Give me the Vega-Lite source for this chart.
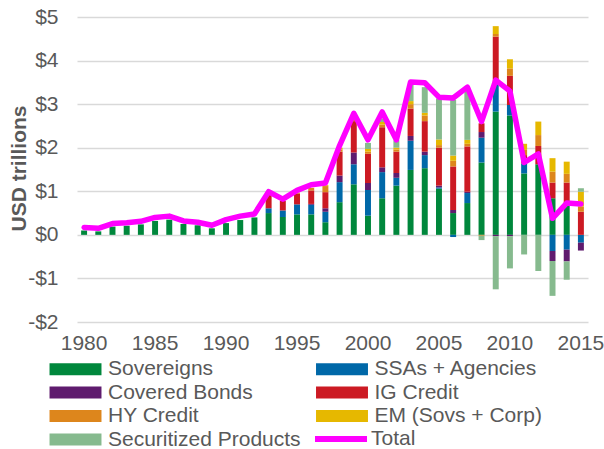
{
 "$schema": "https://vega.github.io/schema/vega-lite/v6.json",
 "width": 511, "height": 305,
 "autosize": {"type": "none"},
 "padding": {"left": 77, "top": 17, "right": 16, "bottom": 127},
 "config": {"font": "Liberation Sans", "view": {"stroke": null}},
 "datasets": {
  "cats": [
   {"cat": "Sovereigns", "k": 1}, {"cat": "SSAs + Agencies", "k": 2}, {"cat": "Covered Bonds", "k": 3},
   {"cat": "IG Credit", "k": 4}, {"cat": "HY Credit", "k": 5}, {"cat": "EM (Sovs + Corp)", "k": 6},
   {"cat": "Securitized Products", "k": 7}
  ],
  "bars": [
   {"year": 1980, "cat": "Sovereigns", "value": 0.10}, {"year": 1981, "cat": "Sovereigns", "value": 0.08},
   {"year": 1982, "cat": "Sovereigns", "value": 0.19}, {"year": 1983, "cat": "Sovereigns", "value": 0.21},
   {"year": 1984, "cat": "Sovereigns", "value": 0.24}, {"year": 1985, "cat": "Sovereigns", "value": 0.32},
   {"year": 1986, "cat": "Sovereigns", "value": 0.35}, {"year": 1987, "cat": "Sovereigns", "value": 0.25},
   {"year": 1988, "cat": "Sovereigns", "value": 0.22}, {"year": 1989, "cat": "Sovereigns", "value": 0.15},
   {"year": 1990, "cat": "Sovereigns", "value": 0.27}, {"year": 1991, "cat": "Sovereigns", "value": 0.34},
   {"year": 1992, "cat": "Sovereigns", "value": 0.40}, {"year": 1993, "cat": "Sovereigns", "value": 0.50},
   {"year": 1994, "cat": "Sovereigns", "value": 0.41}, {"year": 1995, "cat": "Sovereigns", "value": 0.47},
   {"year": 1996, "cat": "Sovereigns", "value": 0.47}, {"year": 1997, "cat": "Sovereigns", "value": 0.29},
   {"year": 1998, "cat": "Sovereigns", "value": 0.75}, {"year": 1999, "cat": "Sovereigns", "value": 1.16},
   {"year": 2000, "cat": "Sovereigns", "value": 0.44}, {"year": 2001, "cat": "Sovereigns", "value": 0.84},
   {"year": 2002, "cat": "Sovereigns", "value": 1.13}, {"year": 2003, "cat": "Sovereigns", "value": 1.49},
   {"year": 2004, "cat": "Sovereigns", "value": 1.53}, {"year": 2005, "cat": "Sovereigns", "value": 1.06},
   {"year": 2006, "cat": "Sovereigns", "value": 0.50}, {"year": 2007, "cat": "Sovereigns", "value": 0.73},
   {"year": 2008, "cat": "Sovereigns", "value": 1.66}, {"year": 2009, "cat": "Sovereigns", "value": 2.83},
   {"year": 2010, "cat": "Sovereigns", "value": 2.74}, {"year": 2011, "cat": "Sovereigns", "value": 1.41},
   {"year": 2012, "cat": "Sovereigns", "value": 1.62}, {"year": 2013, "cat": "Sovereigns", "value": 0.84},
   {"year": 2014, "cat": "Sovereigns", "value": 0.72},

   {"year": 1993, "cat": "SSAs + Agencies", "value": 0.11}, {"year": 1994, "cat": "SSAs + Agencies", "value": 0.15},
   {"year": 1995, "cat": "SSAs + Agencies", "value": 0.23}, {"year": 1996, "cat": "SSAs + Agencies", "value": 0.22},
   {"year": 1997, "cat": "SSAs + Agencies", "value": 0.24}, {"year": 1998, "cat": "SSAs + Agencies", "value": 0.46},
   {"year": 1999, "cat": "SSAs + Agencies", "value": 0.46}, {"year": 2000, "cat": "SSAs + Agencies", "value": 0.59},
   {"year": 2001, "cat": "SSAs + Agencies", "value": 0.60}, {"year": 2002, "cat": "SSAs + Agencies", "value": 0.18},
   {"year": 2003, "cat": "SSAs + Agencies", "value": 0.67}, {"year": 2004, "cat": "SSAs + Agencies", "value": 0.30},
   {"year": 2005, "cat": "SSAs + Agencies", "value": 0.03}, {"year": 2006, "cat": "SSAs + Agencies", "value": -0.05},
   {"year": 2007, "cat": "SSAs + Agencies", "value": 0.23}, {"year": 2008, "cat": "SSAs + Agencies", "value": 0.57},
   {"year": 2009, "cat": "SSAs + Agencies", "value": 0.65}, {"year": 2010, "cat": "SSAs + Agencies", "value": 0.24},
   {"year": 2011, "cat": "SSAs + Agencies", "value": 0.23}, {"year": 2013, "cat": "SSAs + Agencies", "value": -0.37},
   {"year": 2014, "cat": "SSAs + Agencies", "value": -0.34}, {"year": 2015, "cat": "SSAs + Agencies", "value": -0.18},

   {"year": 1996, "cat": "Covered Bonds", "value": 0.02}, {"year": 1997, "cat": "Covered Bonds", "value": 0.08},
   {"year": 1998, "cat": "Covered Bonds", "value": 0.15}, {"year": 1999, "cat": "Covered Bonds", "value": 0.27},
   {"year": 2000, "cat": "Covered Bonds", "value": 0.16}, {"year": 2001, "cat": "Covered Bonds", "value": 0.11},
   {"year": 2002, "cat": "Covered Bonds", "value": 0.11}, {"year": 2003, "cat": "Covered Bonds", "value": 0.11},
   {"year": 2004, "cat": "Covered Bonds", "value": 0.08}, {"year": 2005, "cat": "Covered Bonds", "value": 0.04},
   {"year": 2006, "cat": "Covered Bonds", "value": 0.07}, {"year": 2007, "cat": "Covered Bonds", "value": 0.03},
   {"year": 2008, "cat": "Covered Bonds", "value": 0.13}, {"year": 2009, "cat": "Covered Bonds", "value": -0.03},
   {"year": 2010, "cat": "Covered Bonds", "value": -0.03}, {"year": 2013, "cat": "Covered Bonds", "value": -0.23},
   {"year": 2014, "cat": "Covered Bonds", "value": -0.27}, {"year": 2015, "cat": "Covered Bonds", "value": -0.18},

   {"year": 1993, "cat": "IG Credit", "value": 0.32}, {"year": 1994, "cat": "IG Credit", "value": 0.22},
   {"year": 1995, "cat": "IG Credit", "value": 0.25}, {"year": 1996, "cat": "IG Credit", "value": 0.31},
   {"year": 1997, "cat": "IG Credit", "value": 0.37}, {"year": 1998, "cat": "IG Credit", "value": 0.55},
   {"year": 1999, "cat": "IG Credit", "value": 0.72}, {"year": 2000, "cat": "IG Credit", "value": 0.67},
   {"year": 2001, "cat": "IG Credit", "value": 0.92}, {"year": 2002, "cat": "IG Credit", "value": 0.49},
   {"year": 2003, "cat": "IG Credit", "value": 0.63}, {"year": 2004, "cat": "IG Credit", "value": 0.70},
   {"year": 2005, "cat": "IG Credit", "value": 0.87}, {"year": 2006, "cat": "IG Credit", "value": 1.00},
   {"year": 2007, "cat": "IG Credit", "value": 1.04}, {"year": 2008, "cat": "IG Credit", "value": 0.20},
   {"year": 2009, "cat": "IG Credit", "value": 1.07}, {"year": 2010, "cat": "IG Credit", "value": 0.67},
   {"year": 2011, "cat": "IG Credit", "value": 0.19}, {"year": 2012, "cat": "IG Credit", "value": 0.42},
   {"year": 2013, "cat": "IG Credit", "value": 0.36}, {"year": 2014, "cat": "IG Credit", "value": 0.48},
   {"year": 2015, "cat": "IG Credit", "value": 0.53},

   {"year": 1995, "cat": "HY Credit", "value": 0.02}, {"year": 1996, "cat": "HY Credit", "value": 0.06},
   {"year": 1997, "cat": "HY Credit", "value": 0.14}, {"year": 1998, "cat": "HY Credit", "value": 0.05},
   {"year": 1999, "cat": "HY Credit", "value": 0.04}, {"year": 2000, "cat": "HY Credit", "value": 0.05},
   {"year": 2001, "cat": "HY Credit", "value": 0.06}, {"year": 2002, "cat": "HY Credit", "value": 0.05},
   {"year": 2003, "cat": "HY Credit", "value": 0.10}, {"year": 2004, "cat": "HY Credit", "value": 0.13},
   {"year": 2005, "cat": "HY Credit", "value": 0.06}, {"year": 2006, "cat": "HY Credit", "value": 0.13},
   {"year": 2007, "cat": "HY Credit", "value": 0.06}, {"year": 2008, "cat": "HY Credit", "value": -0.02},
   {"year": 2009, "cat": "HY Credit", "value": 0.06}, {"year": 2010, "cat": "HY Credit", "value": 0.17},
   {"year": 2011, "cat": "HY Credit", "value": 0.12}, {"year": 2012, "cat": "HY Credit", "value": 0.25},
   {"year": 2013, "cat": "HY Credit", "value": 0.25}, {"year": 2014, "cat": "HY Credit", "value": 0.20},
   {"year": 2015, "cat": "HY Credit", "value": 0.12},

   {"year": 1997, "cat": "EM (Sovs + Corp)", "value": 0.02}, {"year": 1998, "cat": "EM (Sovs + Corp)", "value": 0.04},
   {"year": 1999, "cat": "EM (Sovs + Corp)", "value": 0.03}, {"year": 2000, "cat": "EM (Sovs + Corp)", "value": 0.06},
   {"year": 2001, "cat": "EM (Sovs + Corp)", "value": 0.06}, {"year": 2002, "cat": "EM (Sovs + Corp)", "value": 0.04},
   {"year": 2003, "cat": "EM (Sovs + Corp)", "value": 0.07}, {"year": 2004, "cat": "EM (Sovs + Corp)", "value": 0.06},
   {"year": 2005, "cat": "EM (Sovs + Corp)", "value": 0.13}, {"year": 2006, "cat": "EM (Sovs + Corp)", "value": 0.12},
   {"year": 2007, "cat": "EM (Sovs + Corp)", "value": 0.09}, {"year": 2009, "cat": "EM (Sovs + Corp)", "value": 0.18},
   {"year": 2010, "cat": "EM (Sovs + Corp)", "value": 0.21}, {"year": 2011, "cat": "EM (Sovs + Corp)", "value": 0.14},
   {"year": 2012, "cat": "EM (Sovs + Corp)", "value": 0.31}, {"year": 2013, "cat": "EM (Sovs + Corp)", "value": 0.31},
   {"year": 2014, "cat": "EM (Sovs + Corp)", "value": 0.28}, {"year": 2015, "cat": "EM (Sovs + Corp)", "value": 0.34},

   {"year": 1999, "cat": "Securitized Products", "value": 0.05}, {"year": 2000, "cat": "Securitized Products", "value": 0.14},
   {"year": 2001, "cat": "Securitized Products", "value": 0.08}, {"year": 2002, "cat": "Securitized Products", "value": 0.17},
   {"year": 2003, "cat": "Securitized Products", "value": 0.37}, {"year": 2004, "cat": "Securitized Products", "value": 0.59},
   {"year": 2005, "cat": "Securitized Products", "value": 0.94}, {"year": 2006, "cat": "Securitized Products", "value": 1.28},
   {"year": 2007, "cat": "Securitized Products", "value": 1.15}, {"year": 2008, "cat": "Securitized Products", "value": -0.10},
   {"year": 2009, "cat": "Securitized Products", "value": -1.22}, {"year": 2010, "cat": "Securitized Products", "value": -0.74},
   {"year": 2011, "cat": "Securitized Products", "value": -0.45}, {"year": 2012, "cat": "Securitized Products", "value": -0.83},
   {"year": 2013, "cat": "Securitized Products", "value": -0.80}, {"year": 2014, "cat": "Securitized Products", "value": -0.42},
   {"year": 2015, "cat": "Securitized Products", "value": 0.08}
  ],
  "totals": [
   {"year": 1980, "total": 0.17}, {"year": 1981, "total": 0.15}, {"year": 1982, "total": 0.26}, {"year": 1983, "total": 0.28},
   {"year": 1984, "total": 0.31}, {"year": 1985, "total": 0.40}, {"year": 1986, "total": 0.43}, {"year": 1987, "total": 0.32},
   {"year": 1988, "total": 0.29}, {"year": 1989, "total": 0.22}, {"year": 1990, "total": 0.35}, {"year": 1991, "total": 0.43},
   {"year": 1992, "total": 0.48}, {"year": 1993, "total": 0.99}, {"year": 1994, "total": 0.82}, {"year": 1995, "total": 1.02},
   {"year": 1996, "total": 1.15}, {"year": 1997, "total": 1.19}, {"year": 1998, "total": 2.05}, {"year": 1999, "total": 2.79},
   {"year": 2000, "total": 2.18}, {"year": 2001, "total": 2.82}, {"year": 2002, "total": 2.18}, {"year": 2003, "total": 3.51},
   {"year": 2004, "total": 3.49}, {"year": 2005, "total": 3.16}, {"year": 2006, "total": 3.14}, {"year": 2007, "total": 3.39},
   {"year": 2008, "total": 2.60}, {"year": 2009, "total": 3.55}, {"year": 2010, "total": 3.30}, {"year": 2011, "total": 1.66},
   {"year": 2012, "total": 1.86}, {"year": 2013, "total": 0.38}, {"year": 2014, "total": 0.73}, {"year": 2015, "total": 0.71}
  ]
 },
 "layer": [
  {
   "data": {"name": "bars"},
   "transform": [{"lookup": "cat", "from": {"data": {"name": "cats"}, "key": "cat", "fields": ["k"]}}],
   "mark": {"type": "bar", "width": {"band": 0.42}},
   "encoding": {
    "x": {"field": "year", "type": "ordinal", "scale": {"paddingInner": 0, "paddingOuter": 0},
          "axis": {"values": [1980, 1985, 1990, 1995, 2000, 2005, 2010, 2015], "title": null, "labelAngle": 0,
                   "labelFontSize": 21, "labelColor": "#595959", "ticks": false, "domain": false, "labelPadding": 10}},
    "y": {"field": "value", "type": "quantitative", "stack": "zero",
          "scale": {"domain": [-2, 5], "nice": false},
          "axis": {"values": [-2, -1, 0, 1, 2, 3, 4, 5],
                   "labelExpr": "datum.value < 0 ? '-$' + abs(datum.value) : '$' + datum.value",
                   "labelFontSize": 21, "labelColor": "#595959", "ticks": false, "domain": false, "labelPadding": 19,
                   "gridColor": "#d9d9d9", "gridWidth": 1.3,
                   "title": "USD trillions", "titleFontSize": 21, "titleFontWeight": "bold", "titleColor": "#595959",
                   "titleX": -52, "titleY": 151, "titleBaseline": "alphabetic"}},
    "fill": {"field": "cat", "type": "nominal",
             "scale": {"domain": ["Sovereigns", "Covered Bonds", "HY Credit", "Securitized Products", "SSAs + Agencies", "IG Credit", "EM (Sovs + Corp)"],
                       "range": ["#00873c", "#5f1b6e", "#dd861c", "#86ba8e", "#0068a8", "#cc1a23", "#e6b800"]},
             "legend": {"orient": "none", "legendX": -12, "legendY": 341.5, "columns": 2, "title": null,
                        "symbolType": "M-4.33,-1H4.33V1H-4.33Z", "symbolSize": 144, "symbolStrokeWidth": 0,
                        "symbolOpacity": 1, "labelFontSize": 21, "labelColor": "#595959", "labelOffset": 22,
                        "rowPadding": 1.5, "columnPadding": 14.5, "labelLimit": 400}},
    "order": {"field": "k", "type": "quantitative"}
   }
  },
  {
   "mark": {"type": "rule", "color": "#808080", "strokeWidth": 3},
   "encoding": {"y": {"datum": 0}}
  },
  {
   "data": {"name": "totals"},
   "mark": {"type": "line", "strokeWidth": 5.5, "strokeJoin": "round", "strokeCap": "round"},
   "encoding": {
    "x": {"field": "year", "type": "ordinal"},
    "y": {"field": "total", "type": "quantitative"},
    "stroke": {"datum": "Total", "scale": {"range": ["#ff00ff"]},
               "legend": {"orient": "none", "legendX": 235, "legendY": 393, "title": null,
                          "symbolType": "stroke", "symbolSize": 2704, "symbolStrokeWidth": 6,
                          "labelFontSize": 21, "labelColor": "#595959", "labelOffset": 1}}
   }
  }
 ]
}
